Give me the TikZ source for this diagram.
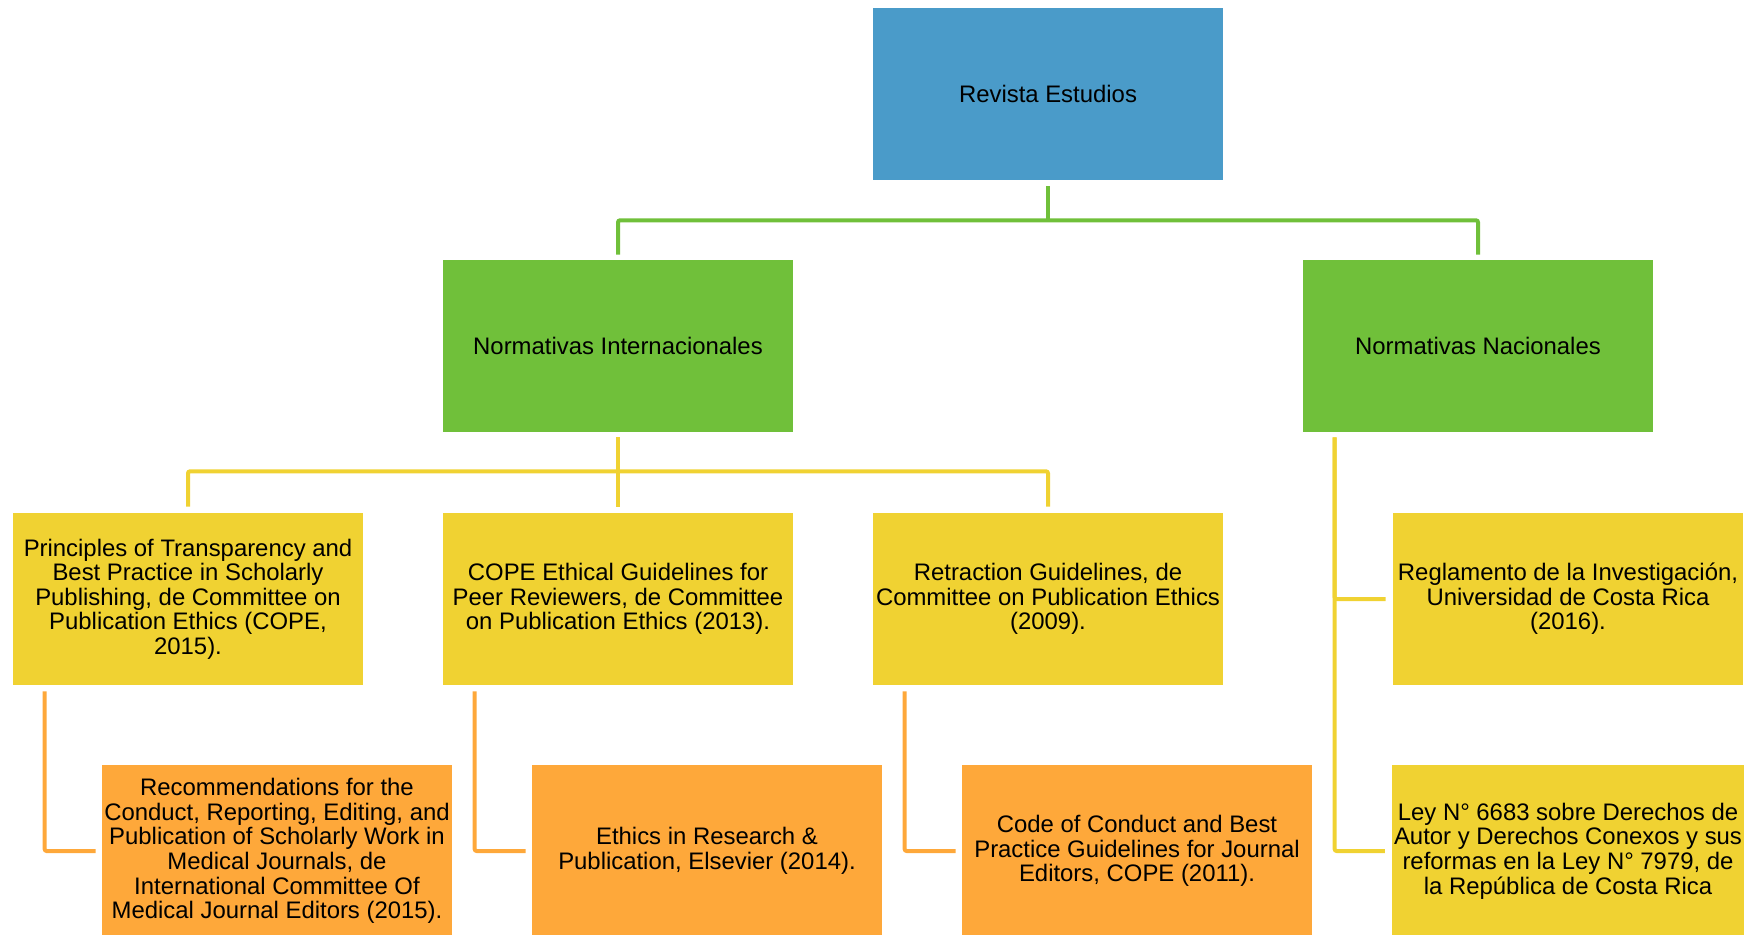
\documentclass[tikz,border=0pt]{standalone}
\usepackage{fontspec}
\setmainfont{Liberation Sans}
\usetikzlibrary{positioning}
\definecolor{boxblue}{RGB}{74,155,201}
\definecolor{boxgreen}{RGB}{112,192,58}
\definecolor{boxyellow}{RGB}{240,210,50}
\definecolor{boxorange}{RGB}{254,168,58}
\begin{document}
\begin{tikzpicture}[x=0.02cm,y=-0.02cm,
		every node/.style={rectangle, minimum width=7cm, minimum height=3.44cm, inner sep=1pt, align=center, font=\fontsize{13.6}{14}\selectfont},
		blue box/.style={fill=boxblue},
		green box/.style={fill=boxgreen},
		yellow box/.style={fill=boxyellow},
		orange box/.style={fill=boxorange},
		green line/.style={draw=boxgreen, line width=0.08cm, rounded corners=0.04cm},
		yellow line/.style={draw=boxyellow, line width=0.08cm, rounded corners=0.04cm},
		orange line/.style={draw=boxorange, line width=0.08cm, rounded corners=0.04cm}]
	\useasboundingbox (0,0) rectangle (1762,934);
	\clip (0,0) rectangle (1762,934);
	% level 1
	\node[blue box] (revista) at (1048,94) {Revista Estudios};
	% level 2
	\node[green box] (inter) at (618,346) {Normativas Internacionales};
	\node[green box] (nac) at (1478,346) {Normativas Nacionales};
	% level 3
	\node[yellow box] (transp) at (188,599) {Principles of Transparency and\\Best Practice in Scholarly\\Publishing, de Committee on\\Publication Ethics (COPE,\\2015).};
	\node[yellow box] (peer) at (618,599) {COPE Ethical Guidelines for\\Peer Reviewers, de Committee\\on Publication Ethics (2013).};
	\node[yellow box] (retract) at (1048,599) {Retraction Guidelines, de\\Committee on Publication Ethics\\(2009).};
	\node[yellow box] (regl) at (1568,599) {Reglamento de la Investigación,\\Universidad de Costa Rica\\(2016).};
	\node[yellow box] (ley) at (1568,851) {Ley N° 6683 sobre Derechos de\\Autor y Derechos Conexos y sus\\reformas en la Ley N° 7979, de\\la República de Costa Rica};
	% level 4
	\node[orange box] (icmje) at (277,851) {Recommendations for the\\Conduct, Reporting, Editing, and\\Publication of Scholarly Work in\\Medical Journals, de\\International Committee Of\\Medical Journal Editors (2015).};
	\node[orange box] (elsevier) at (707,851) {Ethics in Research \&\\Publication, Elsevier (2014).};
	\node[orange box] (code) at (1137,851) {Code of Conduct and Best\\Practice Guidelines for Journal\\Editors, COPE (2011).};
	% connectors
	\draw[green line] ([yshift=-0.12cm]revista.south) -- ++(0,34) coordinate (gjoin);
	\draw[green line] ([yshift=0.1cm]inter.north) |- (gjoin) -| ([yshift=0.1cm]nac.north);
	\draw[yellow line] ([yshift=-0.1cm]inter.south) -- ++(0,34) coordinate (yjoin);
	\draw[yellow line] ([yshift=0.12cm]transp.north) |- (yjoin) -| ([yshift=0.12cm]retract.north);
	\draw[yellow line] (yjoin) -- ([yshift=0.12cm]peer.north);
	\draw[yellow line] ([xshift=0.64cm,yshift=-0.1cm]nac.south west) |- ([xshift=-0.14cm]ley.west);
	\draw[yellow line] ([xshift=0.64cm,yshift=-0.1cm]nac.south west) |- ([xshift=-0.14cm]regl.west);
	\draw[orange line] ([xshift=0.64cm,yshift=-0.12cm]transp.south west) |- ([xshift=-0.12cm]icmje.west);
	\draw[orange line] ([xshift=0.64cm,yshift=-0.12cm]peer.south west) |- ([xshift=-0.12cm]elsevier.west);
	\draw[orange line] ([xshift=0.64cm,yshift=-0.12cm]retract.south west) |- ([xshift=-0.12cm]code.west);
\end{tikzpicture}
\end{document}
